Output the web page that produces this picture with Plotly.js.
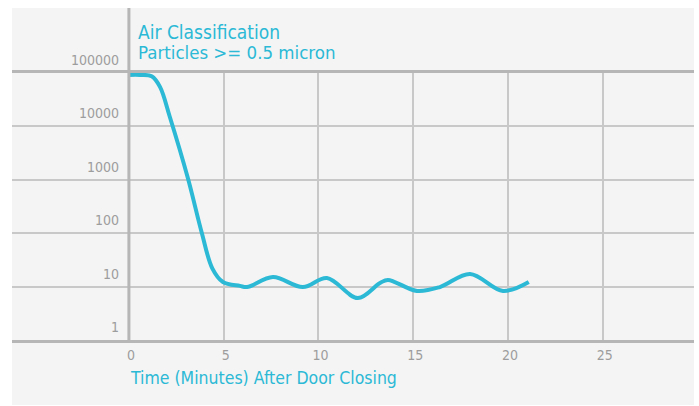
<!DOCTYPE html>
<html>
<head>
<meta charset="utf-8">
<script src="https://cdn.plot.ly/plotly-3.0.1.min.js"></script>
<style>html,body{margin:0;padding:0;background:#fff;}#chart{width:699px;height:406px;}</style>
</head>
<body>
<div id="chart"></div>
<script>
// Time after door closing (minutes)
var time = [0, 0.6, 1.2, 1.64, 2.16, 3.11, 3.85, 4.4, 4.96, 5.86, 6.23, 7.6, 9.18, 10.45, 12.08, 13.25, 13.67, 15.2, 16.41, 18.0, 19.74, 21.1];
// Particles >= 0.5 micron
var particles = [92000, 92000, 87000, 55000, 15000, 1080, 100, 22, 12.2, 10.3, 9.8, 15.1, 9.8, 14.5, 6.1, 11.7, 13.3, 8.3, 9.8, 17.3, 8.3, 12.2];

var yTickVals = [1, 10, 100, 1000, 10000, 100000];
var yTickText = ['1', '10', '100', '1000', '10000', '100000'];
var xTickVals = [0, 5, 10, 15, 20, 25];
var xTickText = ['0', '5', '10', '15', '20', '25'];

var titleLine1 = 'Air Classification';
var titleLine2 = 'Particles >= 0.5 micron';
var xTitle = 'Time (Minutes) After Door Closing';

var cyan = '#2bb9d6';
var gridCol = '#c8c8c8';
var axisCol = '#b6b6b6';
var tickCol = '#9d9d9d';
var FONT = '"Liberation Sans Narrow", "DejaVu Sans Condensed", Roboto, sans-serif';

var trace = {
  x: time, y: particles, type: 'scatter', mode: 'lines',
  line: {color: cyan, width: 4, shape: 'spline', smoothing: 1},
  hoverinfo: 'skip'
};

var layout = {
  width: 699, height: 406,
  margin: {l: 12, r: 5, t: 73, b: 66, pad: 0},
  paper_bgcolor: '#ffffff',
  plot_bgcolor: 'rgba(0,0,0,0)',
  showlegend: false,
  title: {
    text: titleLine1,
    font: {family: FONT, size: 19, color: cyan},
    xref: 'paper', x: 0.1848, xanchor: 'left',
    yref: 'container', y: 1 - 26/406, yanchor: 'top'
  },
  xaxis: {
    range: [-6.17, 29.82],
    tickvals: xTickVals, ticktext: xTickText,
    showgrid: true, gridcolor: gridCol, gridwidth: 2,
    zeroline: false,
    showline: true, linecolor: axisCol, linewidth: 3, mirror: true,
    ticks: '',
    ticklabelshift: 2,
    ticklabelstandoff: 0,
    tickfont: {family: FONT, size: 14, color: tickCol}
  },
  yaxis: {
    type: 'log',
    range: [0, 5],
    tickvals: yTickVals, ticktext: yTickText,
    showgrid: true, gridcolor: gridCol, gridwidth: 2,
    zeroline: false, showline: false,
    anchor: 'free', position: (128 - 12) / 682,
    ticks: '',
    ticklabelshift: -13,
    ticklabelstandoff: 9,
    tickfont: {family: FONT, size: 14, color: tickCol}
  },
  shapes: [
    {type: 'rect', layer: 'below', xref: 'paper', yref: 'paper',
     x0: 0, x1: 1, y0: -65/267, y1: 332/267,
     fillcolor: '#f4f4f4', line: {width: 0}},
    {type: 'line', layer: 'above', xref: 'x', yref: 'paper',
     x0: xTickVals[0], x1: xTickVals[0], y0: -0.004, y1: 332/267,
     line: {color: axisCol, width: 3}}
  ],
  annotations: [
    {text: titleLine2, showarrow: false,
     xref: 'paper', x: 0.1848, xanchor: 'left', xshift: -2,
     yref: 'paper', y: (340 - 40) / 267, yanchor: 'top',
     font: {family: FONT, size: 18.5, color: cyan}},
    {text: xTitle, showarrow: false,
     xref: 'paper', x: (130 - 12) / 682, xanchor: 'left', xshift: -2,
     yref: 'paper', y: (340 - 366) / 267, yanchor: 'top',
     font: {family: FONT, size: 17.5, color: cyan}}
  ]
};

Plotly.newPlot('chart', [trace], layout, {staticPlot: true, displayModeBar: false});
</script>
</body>
</html>
